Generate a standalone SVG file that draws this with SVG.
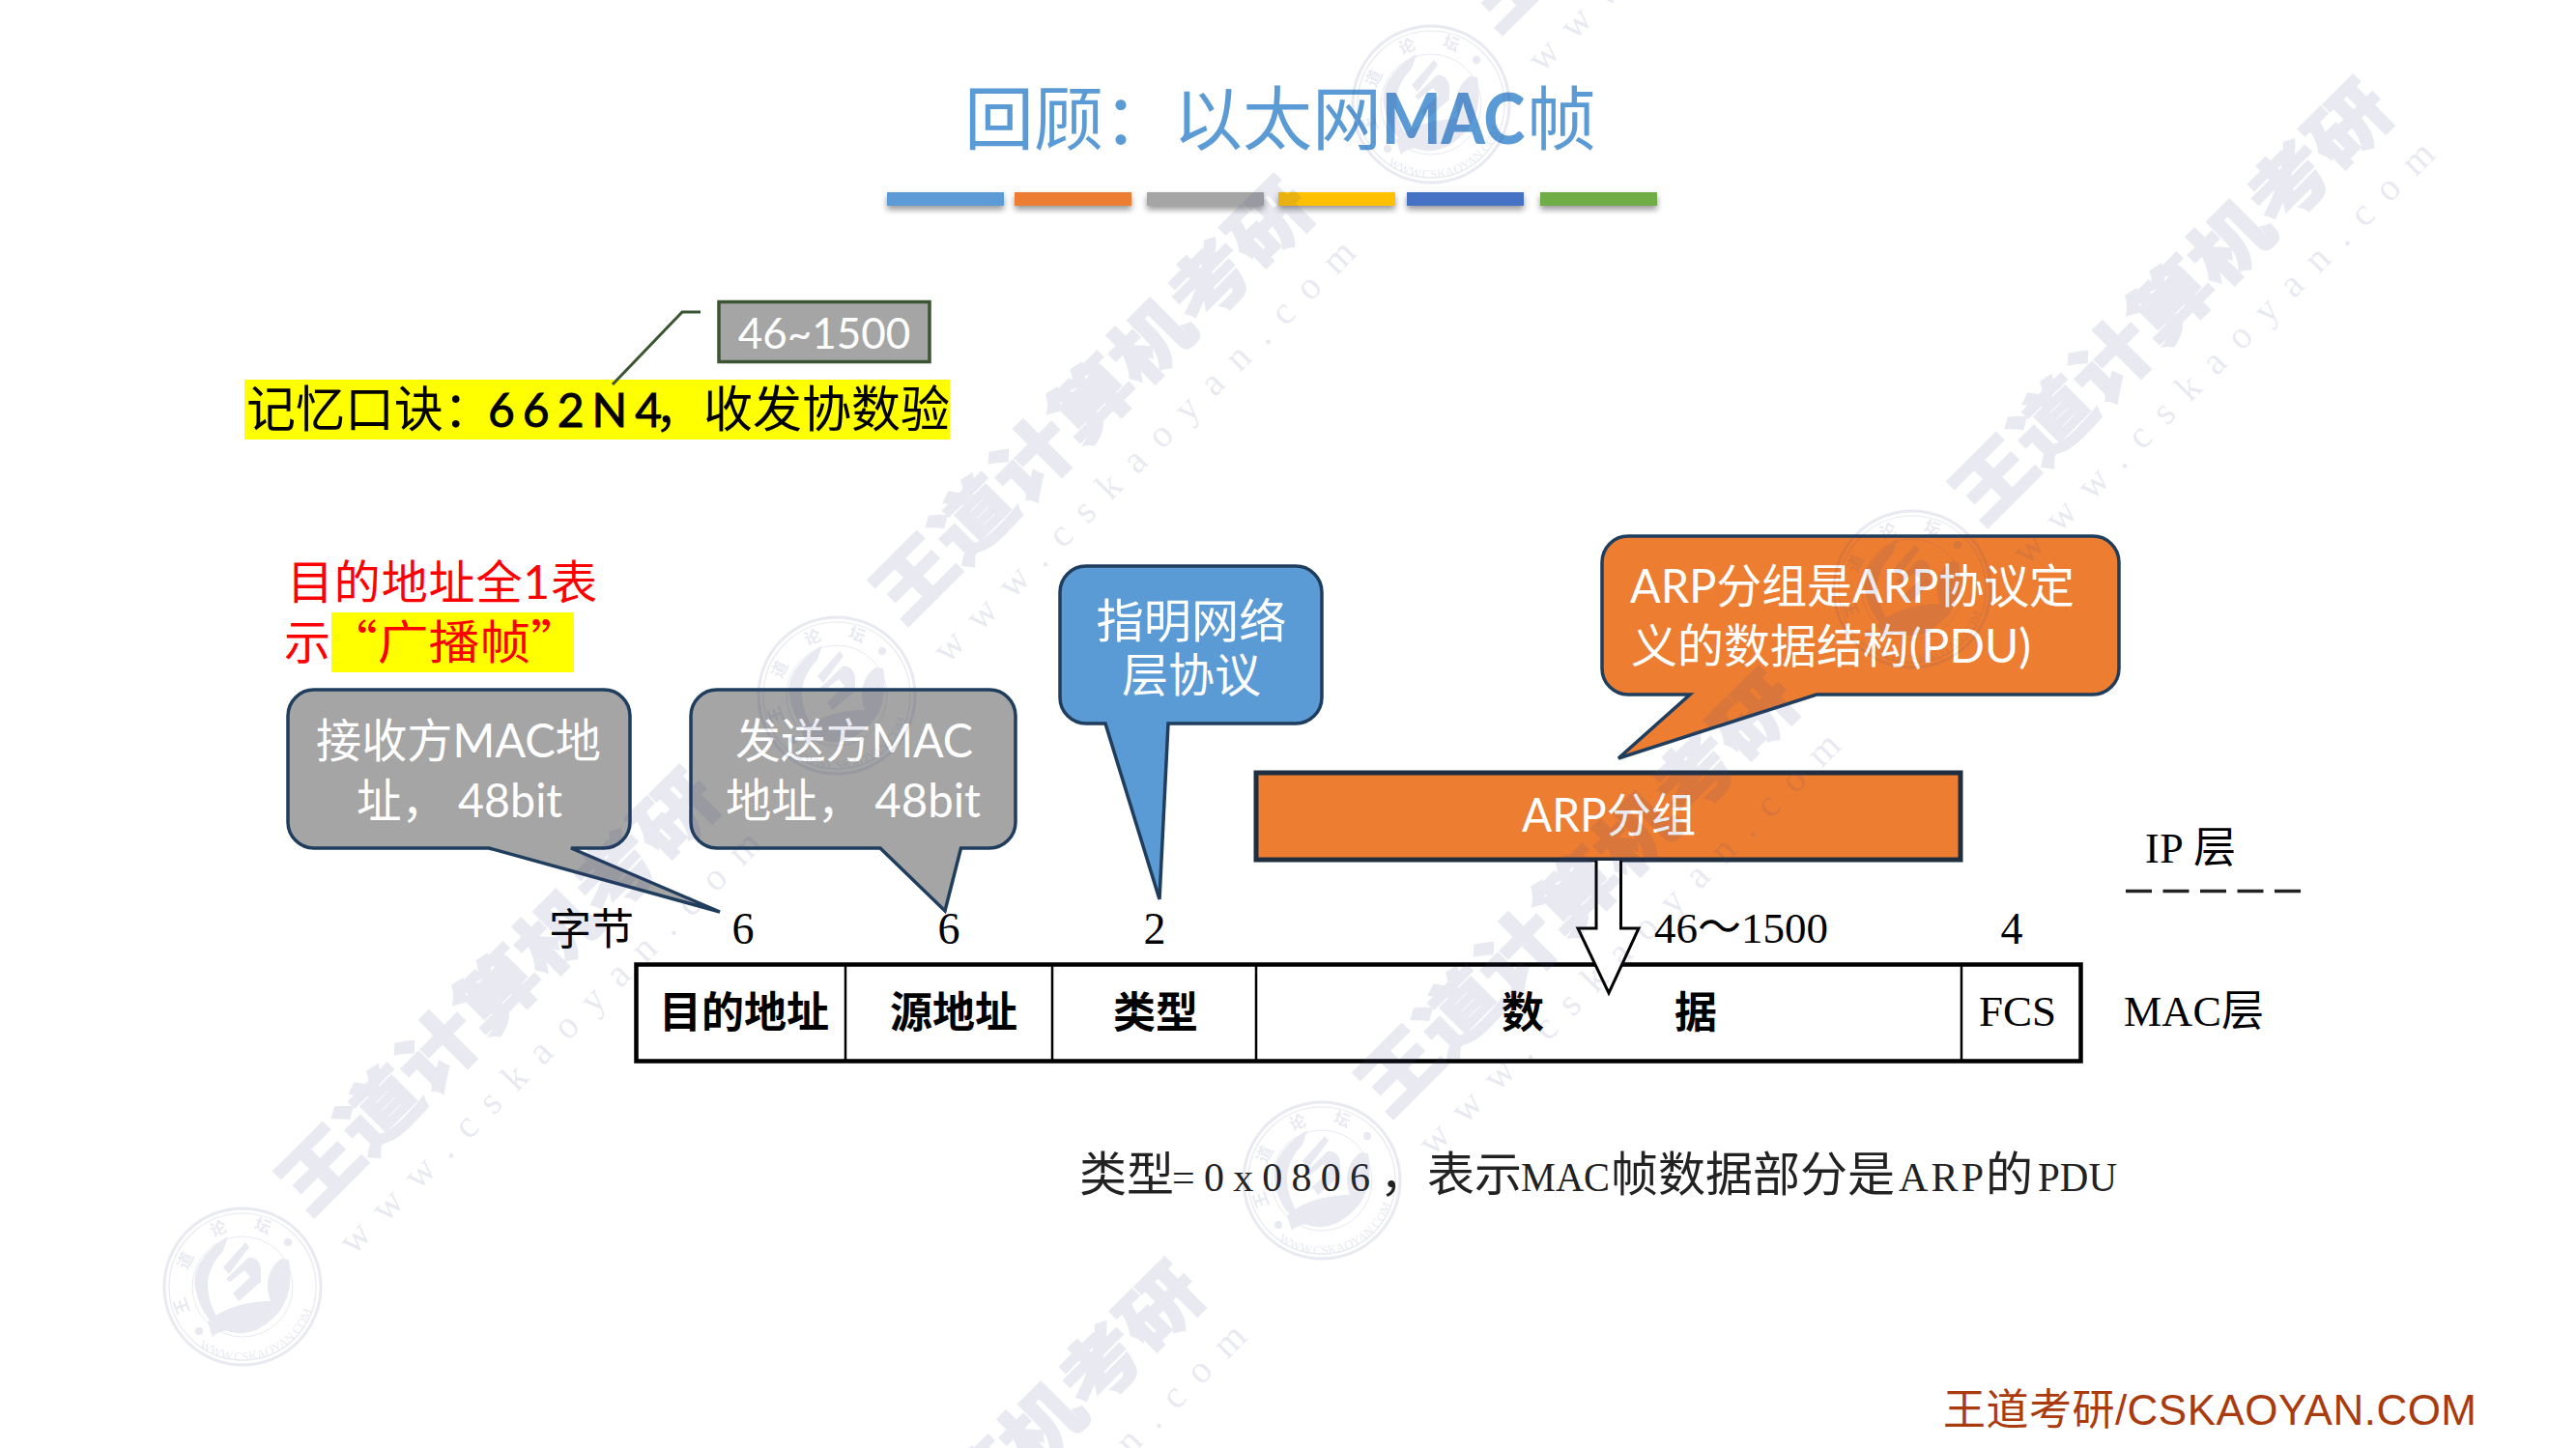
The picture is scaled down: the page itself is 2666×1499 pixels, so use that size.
<svg xmlns="http://www.w3.org/2000/svg" xmlns:xlink="http://www.w3.org/1999/xlink" width="2666" height="1499" viewBox="0 0 2666 1499">
<style>
text{font-family:"Liberation Serif","Noto Sans CJK SC",serif;fill:#000}
.cal{font-family:"Lato","Noto Sans CJK SC",sans-serif;font-size:48px;fill:#fff}
.ser{font-size:44px}
.fcs{font-size:45px}
.num{font-size:46px;text-anchor:middle}
.cell{font-size:44px;font-weight:700;text-anchor:middle}
.bar{filter:url(#sh)}
.tip{stroke:#1f3d5c;stroke-width:3.5;stroke-linejoin:miter}
.wm{font-family:"Noto Sans CJK SC",sans-serif;font-weight:900;font-size:88px;fill:#3c4a8c;stroke:#3c4a8c;stroke-width:2.5}
.wu{font-family:"Liberation Serif",serif;font-size:40px;fill:#3c4a8c}
.lg{font-family:"Noto Sans CJK SC",sans-serif;font-weight:700;font-size:17px;fill:#3c4a8c}
.lu{font-family:"Liberation Serif",serif;font-size:13px;fill:#3c4a8c}
.capl{font-size:42px;fill:#222}
.capc{fill:#222}
</style>
<defs>
<filter id="sh" x="-5%" y="-30%" width="110%" height="190%"><feDropShadow dx="0" dy="4" stdDeviation="3" flood-color="#000" flood-opacity=".4"/></filter>
<path id="ringu" d="M-45,62 A76,76 0 0 0 64,-40"/>
<g id="logo">
<circle r="81" fill="none" stroke="#3c4a8c" stroke-width="3"/>
<circle r="76" fill="none" stroke="#3c4a8c" stroke-width="1.2"/>
<circle r="52" fill="none" stroke="#3c4a8c" stroke-width="1"/>
<path fill="#3c4a8c" d="M-15,-52C-35,-40-55,-20-48,5C-45,20-38,30-32,37L-27,30C-38,10-42,-15-20,-37Z"/>
<path fill="#3c4a8c" d="M-31,52L-36,37C-25,25 0,15 29,15C22,-5 28,-20 40,-29L48,-28C53,2 45,22 29,35C10,52-10,50-21,43L-25,42C-15,25 10,20 30,17C35,0 40,-15 46,-25C38,-10 33,0 36,15C32,32 10,45-5,45C-15,45-25,45-31,52Z"/>
<path fill="#3c4a8c" d="M-20,-20L3,-46L7,-41L-14,-13ZM-17,-8L6,-30C13,-32 19,-25 19,-18L19,-5L-4,15L-10,7L8,-10L2,-17L-13,-5Z"/>
<circle cx="47" cy="-46" r="4" fill="#3c4a8c"/><circle cx="-45" cy="46" r="4" fill="#3c4a8c"/>
<text class="lg" x="-25" y="-54" text-anchor="middle" transform="rotate(-20 -25 -60)">论</text>
<text class="lg" x="21" y="-57" text-anchor="middle" transform="rotate(20 21 -63)">坛</text>
<text class="lg" x="-59" y="-21" text-anchor="middle" transform="rotate(-65 -59 -27)">道</text>
<text class="lg" x="-63" y="26" text-anchor="middle" transform="rotate(-110 -63 20)">王</text>
<text class="lu"><textPath href="#ringu" xlink:href="#ringu">WWW.CSKAOYAN.COM</textPath></text>
</g>
<g id="mark">
<text class="wm" textLength="606" lengthAdjust="spacingAndGlyphs" transform="rotate(-45) scale(1,.85)">王道计算机考研</text>
<text class="wu" textLength="600" transform="translate(46,40) rotate(-45)">www.cskaoyan.com</text>
</g>
</defs>
<rect id="bg" width="2666" height="1499" fill="#fff"/>

<g id="title">
<text x="998" y="149" font-size="72" style="font-family:'Noto Sans CJK SC',sans-serif;fill:#5B9BD5">回顾：以太网<tspan font-weight="900" style="font-family:Lato,sans-serif" textLength="148" lengthAdjust="spacingAndGlyphs">MAC</tspan><tspan x="1580">帧</tspan></text>
</g>
<g id="title-bars">
<rect class="bar" x="918" y="199" width="121" height="14" fill="#5B9BD5"/>
<rect class="bar" x="1050" y="199" width="121" height="14" fill="#ED7D31"/>
<rect class="bar" x="1187" y="199" width="121" height="14" fill="#A5A5A5"/>
<rect class="bar" x="1323" y="199" width="121" height="14" fill="#FFC000"/>
<rect class="bar" x="1456" y="199" width="121" height="14" fill="#4472C4"/>
<rect class="bar" x="1594" y="199" width="121" height="14" fill="#70AD47"/>
</g>

<g id="mnemonic">
<rect x="253" y="393" width="730" height="62" fill="#FFFF00"/>
<text y="442" font-size="51" style="font-family:'Noto Sans CJK SC',sans-serif"><tspan x="255">记忆口诀：</tspan><tspan x="505" style="font-family:'Lato',sans-serif;stroke:#000;stroke-width:.9" textLength="180" font-size="48">6 6 2 N 4</tspan><tspan x="677">，收发协数验</tspan></text>
</g>
<g id="range-box">
<rect x="744" y="312.500" width="218" height="62" fill="#A5A5A5" stroke="#3a5530" stroke-width="3.500"/>
<text x="853" y="361" text-anchor="middle" class="cal" style="font-size:44px">46~1500</text>
</g>

<g id="broadcast-note">
<text y="620" font-size="48" style="fill:#f00;font-family:'Lato','Noto Sans CJK SC',sans-serif" x="297" textLength="321">目的地址全1表</text>
<rect x="343" y="634" width="251" height="62" fill="#FFFF00"/>
<text x="294" y="682" font-size="48" style="fill:#f00;font-family:'Noto Sans CJK SC',sans-serif">示</text>
<text x="338" y="682" font-size="48" textLength="264" lengthAdjust="spacingAndGlyphs" style="fill:#f00;font-family:'Noto Sans CJK SC',sans-serif">“广播帧”</text>
</g>

<g id="callout-dst">
<path class="tip" fill="#A5A5A5" d="M325,714H625A27,27 0 0 1 652,741V851A27,27 0 0 1 625,878H591L745,944L506,878H325A27,27 0 0 1 298,851V741A27,27 0 0 1 325,714Z"/>
<text class="cal" x="327" y="784" textLength="295" lengthAdjust="spacingAndGlyphs">接收方MAC地</text>
<text class="cal" x="369" y="846" textLength="213" lengthAdjust="spacingAndGlyphs">址， 48bit</text>
</g>
<g id="callout-src">
<path class="tip" fill="#A5A5A5" d="M742,714H1024A27,27 0 0 1 1051,741V851A27,27 0 0 1 1024,878H994.500L978,943L911,878H742A27,27 0 0 1 715,851V741A27,27 0 0 1 742,714Z"/>
<text class="cal" x="761" y="784" textLength="246" lengthAdjust="spacingAndGlyphs">发送方MAC</text>
<text class="cal" x="751" y="846" textLength="264" lengthAdjust="spacingAndGlyphs">地址， 48bit</text>
</g>
<g id="callout-type">
<path class="tip" fill="#5B9BD5" d="M1124,586H1341A27,27 0 0 1 1368,613V722A27,27 0 0 1 1341,749H1209L1200,931L1144,749H1124A27,27 0 0 1 1097,722V613A27,27 0 0 1 1124,586Z"/>
<text class="cal" x="1233" y="660" text-anchor="middle" textLength="197" lengthAdjust="spacingAndGlyphs">指明网络</text>
<text class="cal" x="1233" y="716" text-anchor="middle">层协议</text>
</g>
<g id="callout-arp">
<path class="tip" fill="#ED7D31" d="M1685,555H2166A27,27 0 0 1 2193,582V692A27,27 0 0 1 2166,719H1880L1675,785L1749,719H1685A27,27 0 0 1 1658,692V582A27,27 0 0 1 1685,555Z"/>
<text class="cal" x="1687" y="624" textLength="460" lengthAdjust="spacingAndGlyphs">ARP分组是ARP协议定</text>
<text class="cal" x="1688" y="686" textLength="414" lengthAdjust="spacingAndGlyphs">义的数据结构(PDU)</text>
</g>

<g id="arp-packet">
<rect x="1300" y="800" width="729" height="90" fill="#ED7D31" stroke="#1f2f40" stroke-width="5"/>
<text class="cal" x="1575" y="861" textLength="180" lengthAdjust="spacingAndGlyphs">ARP分组</text>
</g>

<g id="mac-frame">
<rect x="658.500" y="998.500" width="1495" height="100" fill="#fff" stroke="#000" stroke-width="4.500"/>
<path d="M875,999V1098M1089,999V1098M1300,999V1098M2030,999V1098" stroke="#000" stroke-width="2.500" fill="none"/>
<text class="cell" x="770" y="1064">目的地址</text>
<text class="cell" x="987" y="1064">源地址</text>
<text class="cell" x="1196" y="1064">类型</text>
<text class="cell" x="1576" y="1064">数</text>
<text class="cell" x="1755" y="1064">据</text>
<text class="fcs" x="2088" y="1062" text-anchor="middle">FCS</text>
</g>

<g id="byte-labels">
<text class="ser" x="568" y="978">字节</text>
<text class="num" x="769" y="977">6</text>
<text class="num" x="982" y="977">6</text>
<text class="num" x="1195" y="977">2</text>
<text x="1712" y="976" font-size="45">46～1500</text>
<text class="num" x="2082" y="977">4</text>
</g>

<g id="layer-labels">
<text class="ser" x="2220" y="893" textLength="94">IP 层</text>
<text class="ser" x="2198" y="1062" textLength="145">MAC层</text>
</g>

<g id="connectors">
<path d="M725,323H706L634,398" fill="none" stroke="#3a5530" stroke-width="3"/>
<path d="M2200,922.500H2385" fill="none" stroke="#222" stroke-width="3.500" stroke-dasharray="27 11.500"/>
<path d="M1652,891V961H1633L1665,1028L1696,961H1677.500V891" fill="#fff" stroke="#000" stroke-width="3"/>
</g>

<g id="caption">
<text y="1233" font-size="49" class="capc"><tspan x="1117">类型</tspan><tspan x="1428">，表示</tspan><tspan x="1667">帧数据部分是</tspan><tspan x="2055">的</tspan></text>
<text class="capl" y="1233" x="1213" textLength="205">=0x0806</text>
<text class="capl" y="1233" x="1574" textLength="92" lengthAdjust="spacingAndGlyphs">MAC</text>
<text class="capl" y="1233" x="1965" textLength="88">ARP</text>
<text class="capl" y="1233" x="2109" textLength="82" lengthAdjust="spacingAndGlyphs">PDU</text>
</g>
<g id="footer">
<text x="2011" y="1475" font-size="44" textLength="552" style="font-family:'Liberation Sans','Noto Sans CJK SC',sans-serif;fill:#A93B0F">王道考研/CSKAOYAN.COM</text>
</g>

<g id="watermark" opacity=".12">
<use href="#mark" xlink:href="#mark" x="320" y="1260"/>
<use href="#mark" xlink:href="#mark" x="935" y="648"/>
<use href="#mark" xlink:href="#mark" x="1437" y="1158"/>
<use href="#mark" xlink:href="#mark" x="2052" y="546"/>
<use href="#mark" xlink:href="#mark" x="822" y="1770"/>
<use href="#mark" xlink:href="#mark" x="1550" y="36"/>
<use href="#logo" xlink:href="#logo" x="251" y="1332"/>
<use href="#logo" xlink:href="#logo" x="866" y="720"/>
<use href="#logo" xlink:href="#logo" x="1368" y="1222"/>
<use href="#logo" xlink:href="#logo" x="1979" y="610"/>
<use href="#logo" xlink:href="#logo" x="1481" y="108"/>
</g>
</svg>
